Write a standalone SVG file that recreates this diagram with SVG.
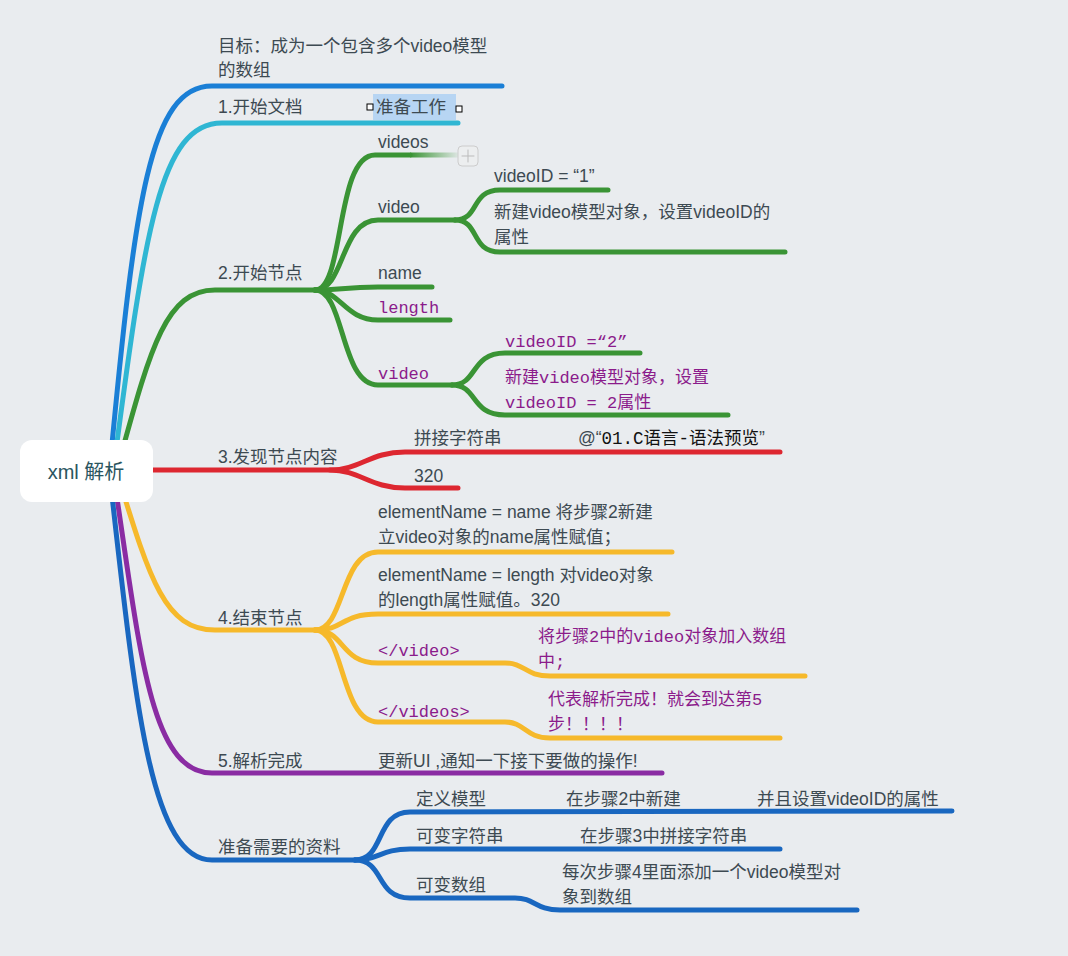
<svg xmlns="http://www.w3.org/2000/svg" width="1068" height="956" viewBox="0 0 1068 956">
<defs>
<style>
text{font-family:"Liberation Sans","Noto Sans CJK SC",sans-serif;font-size:17.5px;fill:#3d4a52}
.m{font-family:"Liberation Mono","Noto Sans CJK SC",monospace;fill:#8b1b8b;font-size:17px}
path{fill:none;stroke-linecap:round;stroke-width:5}
.b{stroke:#1a7fd6}.c{stroke:#2fb6d3}.g{stroke:#3a9435}.r{stroke:#dd2730}.y{stroke:#f6b92b}.v{stroke:#8a2ca3}.d{stroke:#1967c0}
</style>
<linearGradient id="fade" gradientUnits="userSpaceOnUse" x1="410" y1="0" x2="462" y2="0"><stop offset="0" stop-color="#3a9435"/><stop offset="1" stop-color="#3a9435" stop-opacity="0"/></linearGradient>
</defs>
<rect width="1068" height="956" fill="#e9ecef"/>
<g id="connectors">
<path class="b" d="M110 465 C135 200 150 86 212 86 L502 86"/>
<path class="c" d="M114 465 C145 230 160 123 222 123 L458 123"/>
<path class="g" d="M118 466 C150 350 165 290 215 290 L315 290"/>
<path class="g" d="M315 290 C345 290 335 155 375 155 L410 155"/>
<path d="M410 155 L462 155" style="stroke:url(#fade);stroke-linecap:butt"/>
<path class="g" d="M315 290 C345 290 340 220 378 220 L455 220"/>
<path class="g" d="M315 290 C340 290 345 287 378 287 L432 287"/>
<path class="g" d="M315 290 C340 290 345 320 378 320 L450 320"/>
<path class="g" d="M315 290 C345 290 340 385 378 385 L452 385"/>
<path class="g" d="M455 220 C480 220 470 190 500 190 L608 190"/>
<path class="g" d="M455 220 C480 220 470 252 500 252 L785 252"/>
<path class="g" d="M452 385 C478 385 470 353 505 353 L640 353"/>
<path class="g" d="M452 385 C478 385 470 415 505 415 L728 415"/>
<path class="r" d="M150 470 L330 470 C360 470 370 452 405 452 L780 452"/>
<path class="r" d="M330 470 C360 470 370 488 405 488 L458 488"/>
<path class="y" d="M118 476 C150 580 165 630 215 630 L315 630"/>
<path class="y" d="M315 630 C345 630 340 552 378 552 L672 552"/>
<path class="y" d="M315 630 C345 630 340 614 378 614 L668 614"/>
<path class="y" d="M315 630 C345 630 340 663 378 663 L505 663 C525 663 525 676 550 676 L805 676"/>
<path class="y" d="M315 630 C345 630 340 722 378 722 L505 722 C525 722 525 738 550 738 L780 738"/>
<path class="v" d="M114 478 C140 650 150 773 212 773 L662 773"/>
<path class="d" d="M110 478 C135 700 150 860 212 860 L355 860"/>
<path class="d" d="M355 860 C385 860 375 812 410 812 L952 811"/>
<path class="d" d="M355 860 C380 860 380 849 410 849 L780 849"/>
<path class="d" d="M355 860 C385 860 375 898 410 898 L515 898 C535 898 535 910 560 910 L857 910"/>
</g>
<g id="root"><rect x="20" y="440" width="133" height="62" rx="12" fill="#fff"/><text x="86" y="479" text-anchor="middle" style="font-size:20px;fill:#2a5560">xml 解析</text></g>
<g id="n-goal"><text x="218" y="52">目标：成为一个包含多个video模型</text><text x="218" y="76">的数组</text></g>
<g id="n-1"><text x="218" y="113">1.开始文档</text>
<rect x="373" y="94" width="83" height="26" fill="#b7d5f3"/><text x="376" y="113">准备工作</text>
<rect x="367" y="104" width="6" height="6" fill="#fff" stroke="#000"/><rect x="456" y="106" width="6" height="6" fill="#fff" stroke="#000"/></g>
<g id="n-2"><text x="218" y="279">2.开始节点</text>
<text x="378" y="148">videos</text>
<rect x="458" y="146" width="20" height="20" rx="4" fill="#eceeef" stroke="#ccc"/><path d="M462 156 H474 M468 150 V162" style="stroke:#bbb;stroke-width:1"/>
<text x="378" y="213">video</text>
<text x="494" y="182">videoID = “1”</text>
<text x="494" y="218">新建video模型对象，设置videoID的</text><text x="494" y="243">属性</text>
<text x="378" y="279">name</text>
<text class="m" x="378" y="313">length</text>
<text class="m" x="378" y="379">video</text>
<text class="m" x="505" y="347">videoID =“2”</text>
<text class="m" x="505" y="383">新建video模型对象，设置</text><text class="m" x="505" y="408">videoID = 2属性</text></g>
<g id="n-3"><text x="218" y="463">3.发现节点内容</text>
<text x="414" y="444">拼接字符串</text><text x="578" y="444">@“<tspan style="font-family:'Liberation Mono','Noto Sans CJK SC',monospace;fill:#111">01.C语言-语法预览</tspan>”</text>
<text x="414" y="482">320</text></g>
<g id="n-4"><text x="218" y="624">4.结束节点</text>
<text x="378" y="518">elementName = name  将步骤2新建</text><text x="378" y="543">立video对象的name属性赋值；</text>
<text x="378" y="581">elementName = length 对video对象</text><text x="378" y="606">的length属性赋值。320</text>
<text class="m" x="378" y="656">&lt;/video&gt;</text>
<text class="m" x="538" y="642">将步骤2中的video对象加入数组</text><text class="m" x="538" y="667">中;</text>
<text class="m" x="378" y="717">&lt;/videos&gt;</text>
<text class="m" x="548" y="705">代表解析完成！就会到达第5</text><text class="m" x="548" y="730">步！！！！</text></g>
<g id="n-5"><text x="218" y="767">5.解析完成</text><text x="378" y="767">更新UI ,通知一下接下要做的操作!</text></g>
<g id="n-6"><text x="218" y="853">准备需要的资料</text>
<text x="416" y="805">定义模型</text><text x="566" y="805">在步骤2中新建</text><text x="757" y="805">并且设置videoID的属性</text>
<text x="416" y="842">可变字符串</text><text x="580" y="842">在步骤3中拼接字符串</text>
<text x="416" y="891">可变数组</text><text x="562" y="878">每次步骤4里面添加一个video模型对</text><text x="562" y="903">象到数组</text></g>
</svg>
